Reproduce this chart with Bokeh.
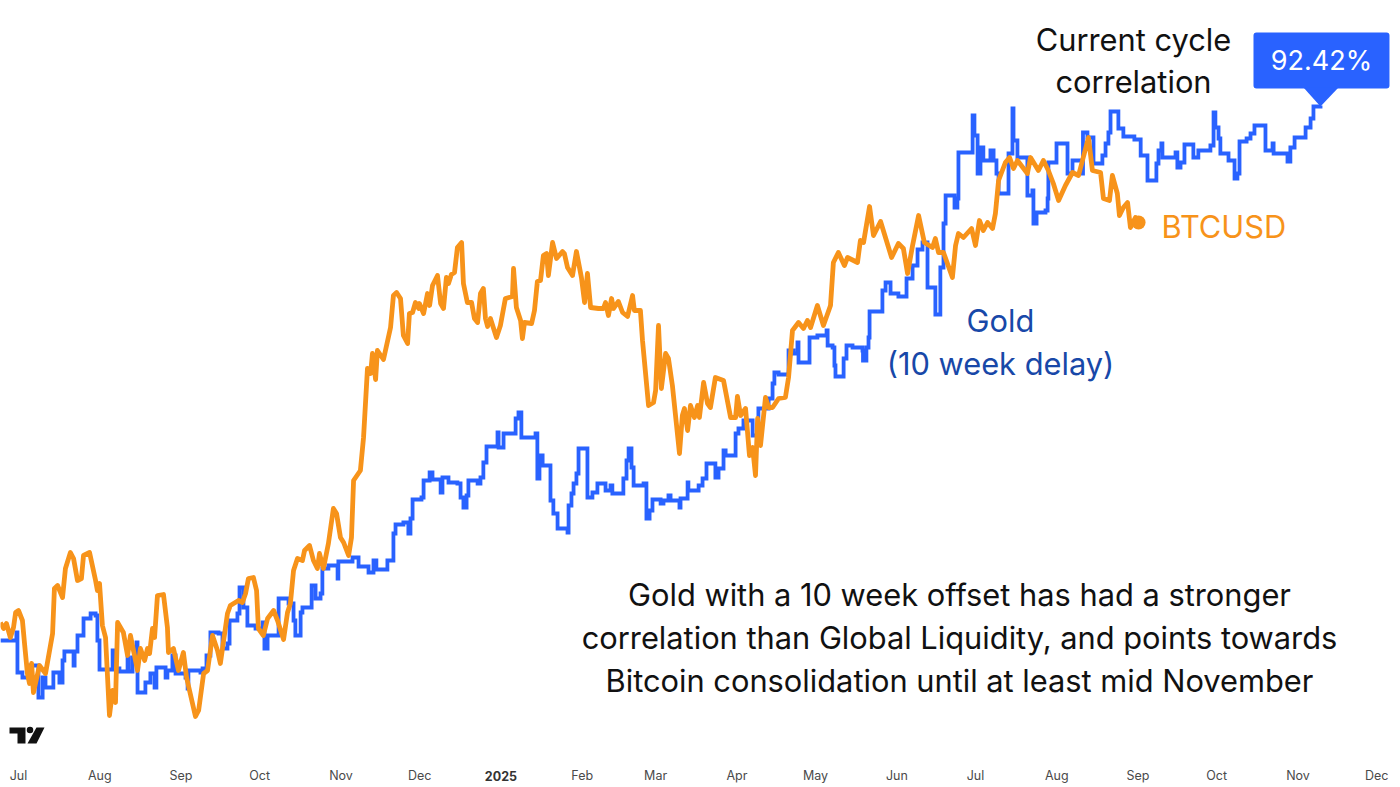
from bokeh.plotting import figure
from bokeh.models import Range1d, FixedTicker, LinearAxis
from bokeh.core.properties import value
from bokeh.embed import file_html
from bokeh.resources import INLINE

# Days since 2024-07-01 and unitless chart level (no price axis is shown)
btc_days = [-6.9,-5.7,-4.6,-3.1,-1.9,-1.1,0,1.5,2.3,3.4,4.2,5.0,5.7,8.0,10.3,13.0,13.7,14.9,16.8,17.9,19.8,21.0,22.5,24.0,24.8,27.1,29.4,30.1,30.9,32.0,33.2,34.7,35.9,37.0,37.8,40.0,41.6,42.7,45.4,46.5,48.1,49.2,50.0,51.1,51.9,53.0,55.3,56.8,57.2,59.1,61.0,62.9,64.1,67.5,68.7,70.6,72.1,74.0,75.9,77.0,79.7,80.8,83.9,85.4,86.6,87.7,89.6,90.8,91.5,93.4,95.0,97.3,98.8,101.1,102.6,103.7,104.9,106.4,108.3,109.1,111.0,112.5,114.0,114.8,116.3,118.2,120.1,121.3,122.8,124.0,125.9,127.0,127.8,130.4,131.6,133.1,134.3,135.0,136.2,136.9,139.2,141.9,143.0,144.2,145.7,146.8,148.4,149.1,150.3,151.4,152.6,152.9,154.5,156.0,156.8,157.9,159.8,161.0,162.1,163.2,164.0,165.1,166.3,167.4,169.0,169.7,171.2,172.8,173.9,175.1,176.2,177.3,178.1,178.9,180.0,182.3,183.8,185.7,188.4,188.8,189.9,191.5,192.2,193.0,195.7,196.8,197.9,199.1,200.2,201.4,202.1,203.7,205.2,207.5,208.2,209.4,211.3,212.8,214.7,215.9,217.0,218.2,221.2,223.1,223.9,225.0,226.2,226.9,228.8,230.4,232.3,234.2,234.9,237.2,238.0,240.3,242.2,243.0,244.1,245.2,246.8,247.9,249.4,252.1,253.2,254.0,255.2,256.3,257.8,259.0,259.7,261.3,262.8,263.9,265.8,268.9,271.6,273.5,274.2,275.4,277.3,278.8,280.0,281.1,281.9,283.0,284.9,286.1,287.6,289.9,292.5,293.7,295.2,297.5,299.4,300.9,302.1,304.7,307.0,309.7,310.8,312.7,315.0,316.2,320.0,321.1,322.3,324.6,326.1,328.8,333.0,335.6,337.5,339.1,341.0,343.3,345.5,348.6,349.7,350.9,352.8,356.2,357.4,358.5,360.4,363.5,365.0,366.5,368.0,369.6,371.5,372.6,373.8,376.4,378.0,379.5,381.0,384.8,386.0,389.0,390.9,392.8,394.7,396.7,399.3,402.0,404.3,405.8,408.1,409.6,412.7,413.8,416.1,417.2,419.1,419.9,421.4,423.0,424.1,426.0,427.2]
btc_levels = [165,159,164,150,160,175,177,167,144,114,104,124,95,122,114,154,199,202,190,219,235,229,207,209,232,235,207,197,204,162,150,72,97,85,165,155,132,152,117,139,127,139,134,159,150,192,193,160,135,139,117,135,110,71,77,114,117,152,137,124,174,182,187,185,194,209,210,197,159,152,169,177,167,148,175,184,217,229,227,237,242,227,219,234,219,244,279,274,250,245,232,250,307,317,350,419,414,434,408,437,428,460,492,495,489,452,444,474,475,485,479,484,474,494,482,502,512,484,479,510,504,513,515,540,545,504,485,485,469,465,494,499,469,461,469,450,462,489,491,519,480,467,449,465,464,477,506,507,532,534,512,545,529,536,534,520,512,536,510,485,514,480,479,479,485,472,489,479,486,475,471,492,477,477,447,382,385,397,462,399,434,429,402,334,372,379,357,382,370,382,370,405,384,380,410,407,370,370,391,372,379,332,340,312,369,342,390,380,380,389,390,410,457,465,459,467,460,482,462,482,525,535,522,530,525,547,545,581,552,566,530,544,539,514,542,572,545,540,549,535,535,510,542,554,550,559,542,567,557,565,559,574,607,625,630,619,627,614,630,617,627,617,604,587,602,615,612,627,650,617,615,589,587,612,594,572,580,585,560,570,565]
gold_days = [-6.9,-0.8,-0.4,1.5,3.8,7.6,9.2,10.3,13.3,15.6,16.8,17.5,21.0,21.4,22.5,24.8,27.5,29.4,30.1,30.9,35.9,36.2,38.5,41.6,42.0,43.5,45.0,45.4,48.4,50.3,51.9,52.6,56.1,56.8,58.7,59.9,63.7,64.5,64.8,69.4,70.2,71.7,73.2,76.3,77.8,79.7,80.5,83.5,84.3,85.8,87.3,90.4,93.1,93.8,95.0,99.2,103.0,104.9,105.6,107.6,108.3,111.8,113.3,115.2,115.9,118.2,121.7,122.0,127.4,129.7,133.5,135.4,136.5,140.7,143.0,143.8,146.8,148.7,149.5,150.3,153.7,154.5,156.8,157.9,161.0,161.7,164.0,167.4,168.6,169.7,170.9,171.6,175.1,176.2,177.3,178.5,182.7,183.1,185.0,189.6,190.7,191.8,197.2,197.9,198.7,199.9,202.9,204.0,205.6,209.4,209.8,210.9,211.7,212.8,213.6,217.0,218.9,220.8,223.9,225.8,226.5,230.7,231.9,232.7,233.8,234.6,238.4,239.5,240.7,241.8,244.9,246.0,247.9,248.7,252.1,252.5,255.2,255.5,259.4,260.9,262.4,265.8,267.0,268.9,269.7,273.5,274.6,276.5,280.0,282.2,286.1,287.6,288.3,289.9,293.7,295.6,297.1,297.5,301.7,304.7,308.2,308.6,310.5,311.2,311.6,314.7,315.8,318.1,321.9,322.1,323.4,324.2,324.6,329.5,330.7,332.6,335.6,338.7,341.0,342.9,344.8,346.7,349.7,351.6,352.8,353.6,357.0,358.1,358.5,363.9,364.6,365.8,366.9,368.0,370.7,371.9,373.0,373.8,377.6,379.1,379.5,381.0,384.8,386.7,387.1,388.3,391.7,392.5,392.8,395.9,400.1,402.0,405.8,406.0,407.7,410.0,413.4,414.6,415.7,416.5,419.5,421.4,425.6,428.0,430.6,434.0,434.8,435.9,436.3,441.3,442.0,443.2,444.7,448.1,450.0,454.6,455.8,456.5,457.7,458.4,461.5,463.8,464.9,465.7,468.4,469.9,471.4,475.6,478.3,478.7,484.0,485.1,486.7,490.9,492.8,493.9,496.6]
gold_levels = [147,155,115,110,122,90,110,100,115,105,127,136,122,136,152,169,174,172,147,118,137,119,116,130,116,130,145,95,105,114,100,120,110,117,132,114,110,99,117,115,119,132,155,154,139,144,167,174,200,180,162,159,165,139,152,189,184,167,152,175,180,202,189,194,219,222,209,226,230,221,215,227,218,227,254,263,265,254,269,288,290,307,315,308,295,310,305,304,290,280,292,307,304,310,325,341,355,340,354,369,375,350,354,309,332,322,287,274,259,255,282,294,304,314,339,290,295,304,297,302,294,309,327,339,320,302,304,269,277,288,284,287,292,287,280,289,305,297,302,309,324,310,319,337,332,354,359,367,352,379,389,404,415,413,437,434,445,425,450,452,457,442,440,422,411,429,442,440,437,427,440,450,476,497,505,494,491,509,522,538,545,500,473,520,564,592,580,589,635,672,652,614,640,627,637,627,614,594,634,679,647,630,592,597,564,575,577,589,625,644,614,627,614,655,650,624,632,644,655,676,659,651,648,632,607,624,637,644,630,635,620,625,643,630,637,642,675,660,649,634,627,609,614,646,649,654,662,637,644,634,626,640,650,660,669,681,682]

month_ticks = [0,31,62,92,123,153,215,243,274,304,335,365,396,427,457,488,518]
month_labels = ["Jul","Aug","Sep","Oct","Nov","Dec","Feb","Mar","Apr","May","Jun","Jul","Aug","Sep","Oct","Nov","Dec"]
year_label = "2025"
year_tick = 184

correlation_label = "92.42%"
cycle_lines = ["Current cycle", "correlation"]
gold_lines = ["Gold", "(10 week delay)"]
btc_name = "BTCUSD"
note_lines = ["Gold with a 10 week offset has had a stronger",
              "correlation than Global Liquidity, and points towards",
              "Bitcoin consolidation until at least mid November"]

BLUE = "#2962ff"
ORANGE = "#f7931a"
FONT = "Inter"

p = figure(width=1400, height=787, output_backend="svg", toolbar_location=None,
           x_range=Range1d(-6.865, 527.1), y_range=Range1d(28, 787),
           y_axis_location=None,
           min_border=0, min_border_bottom=28, min_border_left=0, min_border_right=0, min_border_top=0,
           outline_line_color=None, background_fill_color="white", border_fill_color="white")

# page-position helpers for annotations only
def ax(px):
    return (px - 18) * 0.3814
def ay(py):
    return 787 - py

p.grid.visible = False
ax0 = p.xaxis[0]
ax0.ticker = FixedTicker(ticks=month_ticks)
ax0.major_label_overrides = {t: l for t, l in zip(month_ticks, month_labels)}
ax0.axis_line_color = None
ax0.major_tick_line_color = None
ax0.minor_tick_line_color = None
ax0.major_tick_out = 0
ax0.major_tick_in = 0
ax0.minor_tick_out = 0
ax0.minor_tick_in = 0
ax0.major_label_standoff = 8
ax0.major_label_text_font = FONT
ax0.major_label_text_font_size = "12.5px"
ax0.major_label_text_color = "#4a4a4a"

# the year tick is bold, so it gets an axis of its own pulled up onto the month row
year_axis = LinearAxis(ticker=FixedTicker(ticks=[year_tick]), major_label_overrides={year_tick: year_label},
                       axis_line_color=None, major_tick_line_color=None, minor_tick_line_color=None,
                       major_tick_out=0, major_tick_in=0, minor_tick_out=0, minor_tick_in=0,
                       major_label_standoff=-15, major_label_text_font=FONT, major_label_text_font_size="12.5px",
                       major_label_text_font_style="bold", major_label_text_color="#333333")
p.add_layout(year_axis, "below")

p.step(gold_days, gold_levels, mode="after", line_color=BLUE, line_width=3.8, line_join="miter")
p.line(btc_days, btc_levels, line_color=ORANGE, line_width=4.8, line_join="round")
p.scatter([btc_days[-1]], [btc_levels[-1]], size=14, marker="circle", fill_color=ORANGE, line_color=None)

# callout
p.quad(left=[ax(1253)], right=[ax(1389)], top=[ay(32)], bottom=[ay(88)], fill_color=BLUE, line_color=None, border_radius=3)
p.patch([ax(1303), ax(1320), ax(1338)], [ay(87), ay(106), ay(87)], fill_color=BLUE, line_color=None)

def texts(lines, px, pys, color, size, align="center"):
    p.text([ax(px)] * len(lines), [ay(y) for y in pys], text=lines, text_color=color,
           text_font=value(FONT), text_font_size=size, text_align=align, text_baseline="middle")

texts([correlation_label], 1321, [60], "white", "27px")
texts(cycle_lines, 1133, [39, 81], "#111111", "30.8px")
texts(gold_lines, 1000, [320, 363], "#1848a8", "30.8px")
texts([btc_name], 1161, [226], ORANGE, "30.8px", "left")
texts(note_lines, 959, [594, 637, 680], "#111111", "30.8px")

# chart-provider logo
p.patch([ax(v) for v in (9, 25, 25, 17, 17, 9)], [ay(v) for v in (727, 727, 743, 743, 733, 733)], fill_color="#111111", line_color=None)
p.patch([ax(v) for v in (36, 44, 36, 27)], [ay(v) for v in (727, 727, 743, 743)], fill_color="#111111", line_color=None)
p.scatter([ax(29.5)], [ay(729.5)], size=6.5, marker="circle", fill_color="#111111", line_color=None)

open("out.html", "w").write(file_html(p, INLINE))
